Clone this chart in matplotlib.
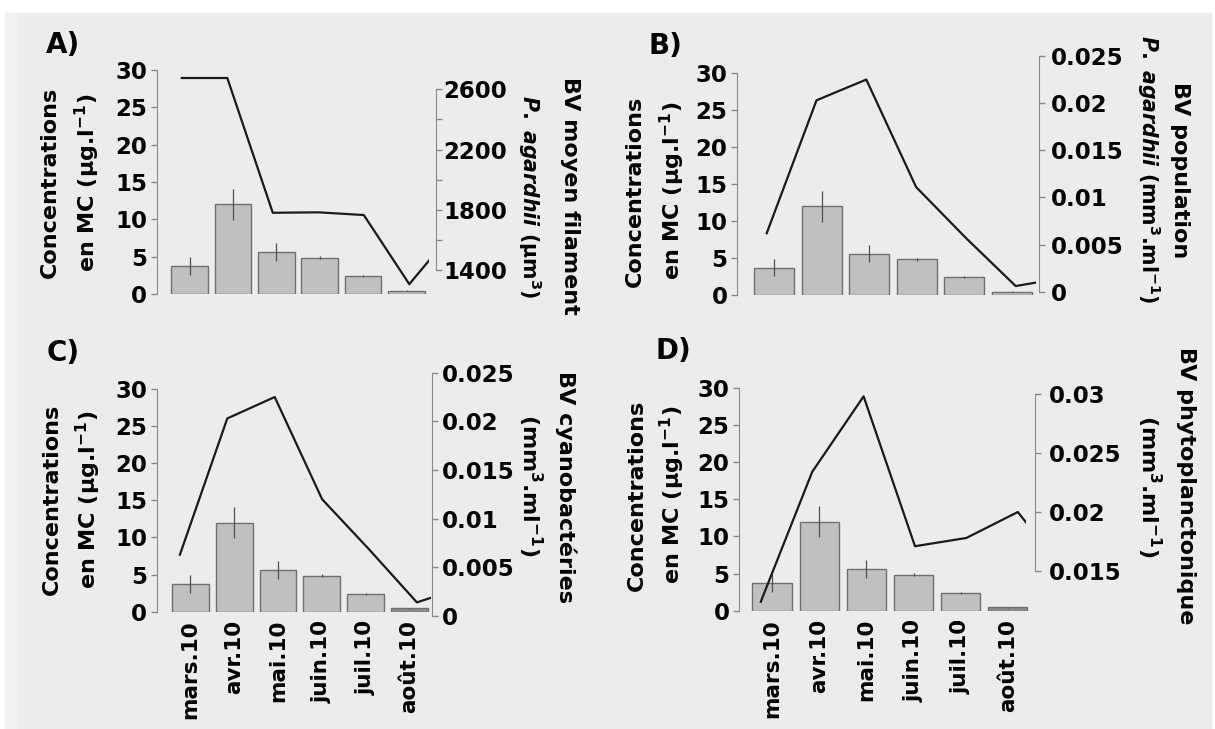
import matplotlib.pyplot as plt
from matplotlib.patches import Rectangle
from matplotlib.ticker import FuncFormatter

plt.rcParams['font.family'] = ['DejaVu Sans']
plt.rcParams['font.weight'] = 'bold'
plt.rcParams['mathtext.fontset'] = 'custom'
plt.rcParams['mathtext.rm'] = 'DejaVu Sans:bold'
plt.rcParams['mathtext.it'] = 'DejaVu Sans:italic:bold'
plt.rcParams['mathtext.bf'] = 'DejaVu Sans:bold'

# data
months = ['mars.10', 'avr.10', 'mai.10', 'juin.10', 'juil.10', 'août.10']
mc = [3.7, 12.0, 5.6, 4.85, 2.4, 0.45]
mc_err = [1.2, 2.1, 1.2, 0.2, 0.1, 0.05]

# last value of each line is the next (cut off) month
bv_filament = [2675, 2675, 1780, 1783, 1765, 1306, 1668]
bv_agardhii = [0.0062, 0.0203, 0.0225, 0.0111, 0.0057, 0.0006, 0.0015]
bv_cyano = [0.0063, 0.0203, 0.0225, 0.0120, 0.0068, 0.0014, 0.0030]
bv_phyto = [0.0124, 0.0234, 0.0298, 0.0171, 0.0178, 0.0200, 0.0145]

W, H = 1215, 729
fig = plt.figure(figsize=(W / 100, H / 100), dpi=100)
fig.add_artist(Rectangle((5 / W, 0), 1206 / W, 716 / H, transform=fig.transFigure,
                         color='#ececec', zorder=-10))
fig.add_artist(Rectangle((5 / W, 0), 12 / W, 716 / H, transform=fig.transFigure,
                         color='#f1f1f1', zorder=-9))


def px_rect(l, r, top, bottom):
    return [l / W, 1 - bottom / H, (r - l) / W, (bottom - top) / H]


def fig_text(s, x, y, **kw):
    fig.text(x / W, 1 - y / H, s, ha='center', va='center', fontweight='bold', **kw)


def panel(geo, line_vals, rticks, rminor, show_x):
    L, R, y30, y0 = geo['box']
    ax = fig.add_axes(px_rect(L, R, y30, y0))
    ax.patch.set_visible(False)
    x = list(range(len(months)))
    bars = ax.bar(x, mc, width=0.84, color='#c0c0c0', edgecolor='#707070', linewidth=1.0)
    if show_x:
        bars[-1].set_facecolor('#8c8c8c')
    ax.errorbar(x, mc, yerr=mc_err, fmt='none', ecolor='#505050', elinewidth=0.9, capsize=0)
    c0, step = geo['bars']
    ax.set_xlim((L - c0) / step, (R - c0) / step)
    ax.set_ylim(0, 30)
    ax.set_yticks(range(0, 31, 5))
    for s in ['top', 'right', 'bottom']:
        ax.spines[s].set_visible(False)
    ax.spines['left'].set_color('#8a8a8a')
    ax.tick_params(axis='y', direction='out', length=4.5, width=1, color='#8a8a8a',
                   labelsize=16.5, pad=2.5)
    if show_x:
        ax.set_xticks(x)
        ax.set_xticklabels(months, rotation=90, fontsize=15.5, fontweight='bold')
        ax.tick_params(axis='x', length=0, pad=6)
    else:
        ax.set_xticks([])

    # line on its own overlay axes
    le, lx0, lstep = geo['line']
    (va, pa), (vb, pb) = geo['rmap']
    top = min(y30, pa, pb)
    bottom = max(y0, pa, pb)
    lax = fig.add_axes(px_rect(L, le, top, bottom))
    lax.patch.set_visible(False)
    lax.plot(range(len(line_vals)), line_vals, color='#1a1a1a', lw=1.6)
    lax.set_xlim((L - lx0) / lstep, (le - lx0) / lstep)
    k = (vb - va) / (pb - pa)
    lax.set_ylim(va + (bottom - pa) * k, va + (top - pa) * k)
    for s in ['top', 'left', 'bottom']:
        lax.spines[s].set_visible(False)
    lax.spines['right'].set_position(('outward', (R - le) * 0.72))
    lax.spines['right'].set_bounds(min(rticks), max(rticks))
    lax.spines['right'].set_color('#8a8a8a')
    lax.set_xticks([])
    lax.yaxis.tick_right()
    lax.set_yticks(rticks)
    if rminor:
        lax.set_yticks(rminor, minor=True)
    lax.yaxis.set_major_formatter(FuncFormatter(lambda v, p: '{:g}'.format(v)))
    lax.tick_params(axis='y', which='both', direction='out', length=4.5, width=1,
                    color='#8a8a8a', labelsize=16.5, pad=geo['rpad'])


geo_a = dict(box=(157, 436, 70, 294), bars=(189.5, 43.4), line=(428.6, 181.8, 45.5),
             rmap=((2600, 89.3), (1400, 270)), rpad=1)
geo_b = dict(box=(737.3, 1039.2, 72.7, 295), bars=(774.1, 47.5), line=(1036.1, 766.7, 49.8),
             rmap=((0.025, 56), (0, 291.7)), rpad=4)
geo_c = dict(box=(156.9, 431.7, 389, 611.7), bars=(190.4, 43.8), line=(430.5, 179.9, 47.4),
             rmap=((0.025, 372.7), (0, 616)), rpad=2.5)
geo_d = dict(box=(739.2, 1034.5, 387.7, 610.7), bars=(772.2, 47.1), line=(1025.5, 760.8, 51.4),
             rmap=((0.03, 394), (0.015, 571)), rpad=6)

panel(geo_a, bv_filament, [1400, 1800, 2200, 2600], [1600, 2000, 2400], False)
panel(geo_b, bv_agardhii, [0, 0.005, 0.01, 0.015, 0.02, 0.025], None, False)
panel(geo_c, bv_cyano, [0, 0.005, 0.01, 0.015, 0.02, 0.025], None, True)
panel(geo_d, bv_phyto, [0.015, 0.02, 0.025, 0.03], None, True)

lab1 = 'Concentrations'
lab2 = 'en MC (µg.l$^{-1}$)'
unit = '(mm$^{3}$.ml$^{-1}$)'
fs = 16
fs_it = 14.8

# panel A
fig_text('A)', 63, 45, fontsize=20)
fig_text(lab1, 50, 182, rotation=90, fontsize=fs)
fig_text(lab2, 87, 183, rotation=90, fontsize=fs)
fig_text('BV moyen filament', 570, 196, rotation=270, fontsize=fs)
fig_text(r'$\mathit{P.\ agardhii}$ (µm$^{3}$)', 530, 197, rotation=270, fontsize=fs_it)

# panel B
fig_text('B)', 665, 46, fontsize=20)
fig_text(lab1, 635, 191, rotation=90, fontsize=fs)
fig_text(lab2, 672.5, 191, rotation=90, fontsize=fs)
fig_text('BV population', 1180, 170, rotation=270, fontsize=fs)
fig_text(r'$\mathit{P.\ agardhii}$ ' + unit, 1149, 169.5, rotation=270, fontsize=fs_it)

# panel C
fig_text('C)', 63, 353, fontsize=20)
fig_text(lab1, 52, 499.5, rotation=90, fontsize=fs)
fig_text(lab2, 88, 500, rotation=90, fontsize=fs)
fig_text('BV cyanobactéries', 566, 487, rotation=270, fontsize=fs)
fig_text(unit, 530, 485, rotation=270, fontsize=fs)

# panel D
fig_text('D)', 673, 351, fontsize=20)
fig_text(lab1, 637, 495, rotation=90, fontsize=fs)
fig_text(lab2, 672.5, 495, rotation=90, fontsize=fs)
fig_text('BV phytoplanctonique', 1186, 486, rotation=270, fontsize=fs)
fig_text(unit, 1149, 486, rotation=270, fontsize=fs)

fig.savefig('out.png', dpi=100)
